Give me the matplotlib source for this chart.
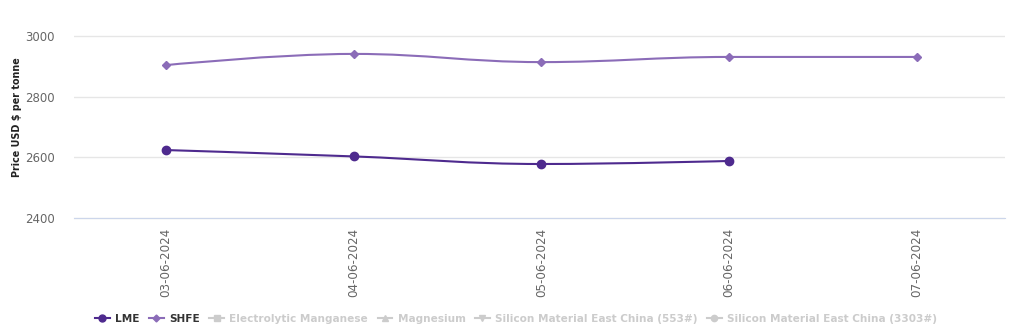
import numpy as np
import matplotlib
matplotlib.use("Agg")
import matplotlib.pyplot as plt
from matplotlib.path import Path
from matplotlib.patches import PathPatch
from matplotlib.lines import Line2D

# price data, USD per tonne
dates = ["03-06-2024", "04-06-2024", "05-06-2024", "06-06-2024", "07-06-2024"]
lme = [2624, 2603, 2578, 2588]
shfe = [2904, 2941, 2914, 2931, 2931]

lme_color = "#4e2a8e"
shfe_color = "#8b6cb8"
grey = "#cccccc"


def spline_path(xs, ys, smoothing=1.5):
    # cubic bezier through the points, same control-point rule as highcharts "spline"
    n = len(xs)
    left = [None] * n
    right = [None] * n
    denom = smoothing + 1
    for i in range(1, n - 1):
        x, y = xs[i], ys[i]
        lx, ly = xs[i - 1], ys[i - 1]
        nx_, ny = xs[i + 1], ys[i + 1]
        lcx = (smoothing * x + lx) / denom
        lcy = (smoothing * y + ly) / denom
        rcx = (smoothing * x + nx_) / denom
        rcy = (smoothing * y + ny) / denom
        corr = 0
        if rcx != lcx:
            corr = ((rcy - lcy) * (rcx - x)) / (rcx - lcx) + y - rcy
        lcy += corr
        rcy += corr
        if lcy > ly and lcy > y:
            lcy = max(ly, y)
            rcy = 2 * y - lcy
        elif lcy < ly and lcy < y:
            lcy = min(ly, y)
            rcy = 2 * y - lcy
        if rcy > ny and rcy > y:
            rcy = max(ny, y)
            lcy = 2 * y - rcy
        elif rcy < ny and rcy < y:
            rcy = min(ny, y)
            lcy = 2 * y - rcy
        left[i] = (lcx, lcy)
        right[i] = (rcx, rcy)
    verts = [(xs[0], ys[0])]
    codes = [Path.MOVETO]
    for i in range(1, n):
        c1 = right[i - 1] or (xs[i - 1], ys[i - 1])
        c2 = left[i] or (xs[i], ys[i])
        verts += [c1, c2, (xs[i], ys[i])]
        codes += [Path.CURVE4] * 3
    return Path(verts, codes)


fig = plt.figure(figsize=(10.22, 3.32), dpi=100)
ax = fig.add_axes([74 / 1022, 1 - 219.5 / 332, 931 / 1022, 185 / 332])

for vals, col, mk, ms in [(lme, lme_color, "o", 6), (shfe, shfe_color, "D", 3.8)]:
    xs = list(range(len(vals)))
    ax.add_patch(PathPatch(spline_path(xs, vals), facecolor="none",
                           edgecolor=col, lw=1.5, zorder=3))
    ax.plot(xs, vals, ls="none", marker=mk, ms=ms, color=col, zorder=4)

ax.set_xlim(-0.49, 4.47)
ax.set_ylim(2395, 3005)
ax.set_yticks([2400, 2600, 2800, 3000])
ax.set_xticks(range(len(dates)))
ax.set_xticklabels(dates)
ax.tick_params(axis="both", length=0, colors="#666666", labelsize=8.6)
ax.tick_params(axis="y", pad=14, labelsize=8.5)
ax.tick_params(axis="x", pad=7, labelrotation=90)
ax.grid(axis="y", color="#e6e6e6", lw=1)
ax.set_axisbelow(True)
for s in ["top", "right", "left"]:
    ax.spines[s].set_visible(False)
ax.spines["bottom"].set_color("#ccd6eb")
ax.spines["bottom"].set_position(("data", 2400))

fig.text(17 / 1022, 1 - 117 / 332, "Price USD $ per tonne", rotation=90,
         ha="center", va="center", fontsize=6.9, fontweight="bold", color="#222222")

# legend along the bottom, hidden series greyed out
handles = [
    Line2D([], [], color=lme_color, marker="o", ms=5, lw=1.5),
    Line2D([], [], color=shfe_color, marker="D", ms=3.5, lw=1.5),
    Line2D([], [], color=grey, marker="s", ms=4.5, lw=1.5),
    Line2D([], [], color=grey, marker="^", ms=4.5, lw=1.5),
    Line2D([], [], color=grey, marker="v", ms=4.5, lw=1.5),
    Line2D([], [], color=grey, marker="o", ms=4.5, lw=1.5),
]
names = ["LME", "SHFE", "Electrolytic Manganese", "Magnesium",
         "Silicon Material East China (553#)", "Silicon Material East China (3303#)"]
leg = fig.legend(handles, names, loc="center", bbox_to_anchor=(516 / 1022, 1 - 319 / 332),
                 ncol=6, frameon=False, handlelength=1.4, handletextpad=0.5,
                 columnspacing=0.9, prop={"weight": "bold", "size": 7.6})
for i, t in enumerate(leg.get_texts()):
    t.set_color("#333333" if i < 2 else grey)

fig.savefig("out.png", dpi=100)
